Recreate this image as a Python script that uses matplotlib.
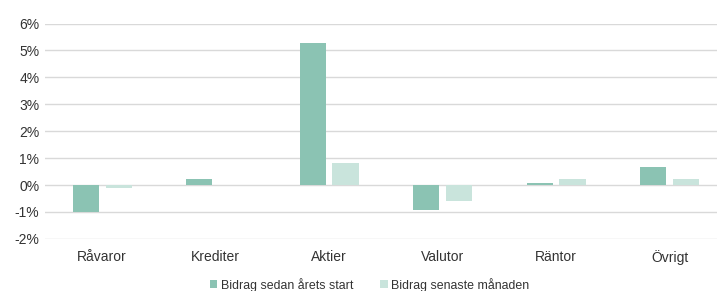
import numpy as np
import matplotlib.pyplot as plt
from matplotlib.ticker import FuncFormatter

# data (percent)
categories = ["Råvaror", "Krediter", "Aktier", "Valutor", "Räntor", "Övrigt"]
ytd = [-1.0, 0.21, 5.27, -0.91, 0.09, 0.69]
last_month = [-0.12, 0.0, 0.81, -0.60, 0.24, 0.22]
series_names = ["Bidrag sedan årets start", "Bidrag senaste månaden"]

DARK = "#8bc3b3"
LIGHT = "#c9e4dc"

plt.rcParams["font.family"] = ["Liberation Sans", "DejaVu Sans"]
plt.rcParams["font.size"] = 10

fig = plt.figure(figsize=(7.19, 2.91), dpi=100)
ax = fig.add_axes([0.0626, 0.179, 0.934, 0.74])

x = np.arange(len(categories))
w = 0.23
off = 0.145
ax.bar(x - off, ytd, width=w, color=DARK, label=series_names[0], zorder=3)
ax.bar(x + off, last_month, width=w, color=LIGHT, label=series_names[1], zorder=3)

ax.set_xlim(-0.503, 5.414)
ax.set_ylim(-2, 6)
ax.set_yticks(np.arange(-2, 7, 1))
ax.yaxis.set_major_formatter(FuncFormatter(lambda v, p: f"{v:.0f}%"))
ax.set_xticks(x)
ax.set_xticklabels(categories)
ax.tick_params(axis="both", length=0, colors="#333333", labelsize=10)
ax.tick_params(axis="x", pad=8)
ax.tick_params(axis="y", pad=4)
ax.grid(axis="y", color="#d9d9d9", linewidth=1.0, zorder=0)
ax.set_axisbelow(True)
for s in ax.spines.values():
    s.set_visible(False)

fig.legend(loc="center", bbox_to_anchor=(0.514, 0.022), ncol=2, frameon=False,
           handlelength=0.6, handleheight=0.6, handletextpad=0.3, columnspacing=2.2,
           fontsize=8.9, labelcolor="#333333")

fig.savefig("out.png", dpi=100)
